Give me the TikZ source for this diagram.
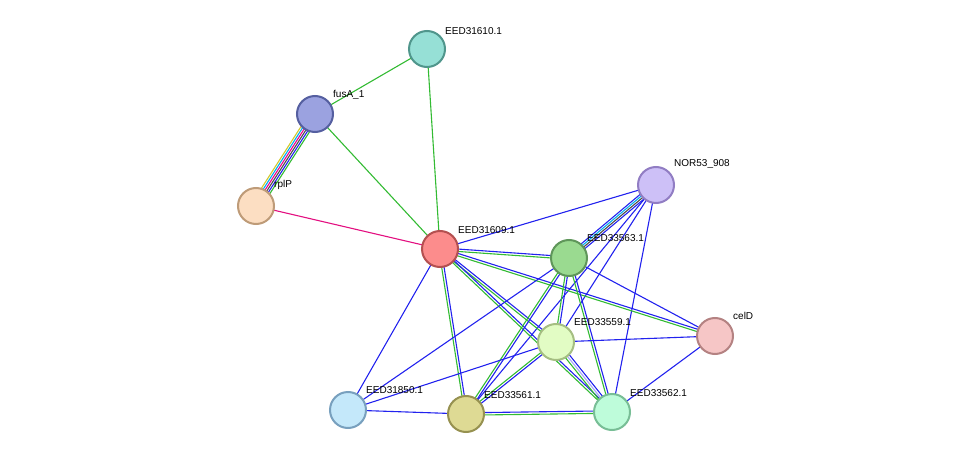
\documentclass[tikz,border=0pt]{standalone}
\usepackage{fontspec}
\setmainfont{Liberation Sans}
\usetikzlibrary{calc}
\begin{document}
\begin{tikzpicture}[x=1pt,y=-1pt,
  nd/.style={circle,minimum size=36pt,inner sep=0pt,line width=2pt},
  lb/.style={anchor=south west,inner sep=0pt,font=\fontsize{10}{11}\selectfont},
  e/.style={line width=1.1pt}]
\useasboundingbox (0,0) rectangle (975,460);
\def\P#1#2#3#4{\draw[e,#3] ($(#1)!#4!90:(#2)$) -- ($(#2)!#4!-90:(#1)$);}
\definecolor{gr}{HTML}{33BB33}
\definecolor{bl}{HTML}{2222EE}
\def\BG#1#2{\P{#1}{#2}{bl}{1.2pt}\P{#1}{#2}{gr}{-1.2pt}}
\coordinate (a) at (427,49);
\coordinate (f) at (315,114);
\coordinate (r) at (256,206);
\coordinate (n) at (656,185);
\coordinate (c) at (440,249);
\coordinate (g) at (569,258);
\coordinate (d) at (715,336);
\coordinate (s) at (556,342);
\coordinate (b) at (348,410);
\coordinate (k) at (466,414);
\coordinate (t) at (612,412);
% edges
\draw[e,gr] (a)--(f); \draw[e,gr] (a)--(c); \draw[e,gr] (f)--(c);
\P{f}{r}{gr}{5pt}\P{f}{r}{bl}{3pt}\P{f}{r}{black!70}{1pt}
\P{f}{r}{magenta}{-1pt}\P{f}{r}{cyan}{-3pt}\P{f}{r}{yellow!80!black}{-5pt}
\draw[e,magenta!80!purple] (r)--(c);
\draw[e,bl] (n)--(c);
\P{n}{g}{bl}{3pt}\P{n}{g}{black!70}{1pt}\P{n}{g}{cyan}{-1pt}\P{n}{g}{bl}{-3pt}
\draw[e,bl] (n)--(s); \draw[e,bl] (n)--(t); \draw[e,bl] (n)--(k);
\BG{c}{g}\BG{c}{d}\BG{c}{s}\BG{c}{t}\BG{c}{k}
\draw[e,bl] (c)--(b);
\draw[e,bl] (g)--(d); \BG{g}{s}\BG{g}{t}\BG{g}{k}\draw[e,bl] (g)--(b);
\draw[e,bl] (s)--(d); \draw[e,bl] (s)--(b); \BG{s}{k}
\P{s}{t}{bl}{2.4pt}\P{s}{t}{bl!40}{0pt}\P{s}{t}{gr}{-2.4pt}
\draw[e,bl] (d)--(t); \draw[e,bl] (b)--(k); \BG{k}{t}
% nodes
\node[nd,fill={rgb,255:red,150;green,224;blue,214},draw={rgb,255:red,80;green,150;blue,140}] (A) at (a) {};
\node[nd,fill={rgb,255:red,155;green,162;blue,224},draw={rgb,255:red,85;green,95;blue,160}] (F) at (f) {};
\node[nd,fill={rgb,255:red,252;green,222;blue,194},draw={rgb,255:red,190;green,155;blue,120}] (R) at (r) {};
\node[nd,fill={rgb,255:red,205;green,192;blue,247},draw={rgb,255:red,145;green,125;blue,195}] (N) at (n) {};
\node[nd,fill={rgb,255:red,252;green,140;blue,140},draw={rgb,255:red,180;green,80;blue,80}] (C) at (c) {};
\node[nd,fill={rgb,255:red,154;green,218;blue,144},draw={rgb,255:red,95;green,150;blue,90}] (G) at (g) {};
\node[nd,fill={rgb,255:red,246;green,198;blue,198},draw={rgb,255:red,180;green,130;blue,130}] (D) at (d) {};
\node[nd,fill={rgb,255:red,226;green,252;blue,196},draw={rgb,255:red,165;green,190;blue,130}] (S) at (s) {};
\node[nd,fill={rgb,255:red,196;green,232;blue,250},draw={rgb,255:red,120;green,160;blue,190}] (B) at (b) {};
\node[nd,fill={rgb,255:red,222;green,218;blue,148},draw={rgb,255:red,150;green,145;blue,80}] (K) at (k) {};
\node[nd,fill={rgb,255:red,190;green,252;blue,218},draw={rgb,255:red,120;green,190;blue,150}] (T) at (t) {};
\node[lb] at ($(a)+(18,-14)$) {EED31610.1};
\node[lb] at ($(f)+(18,-14)$) {fusA\_1};
\node[lb] at ($(r)+(18,-16)$) {rplP};
\node[lb] at ($(n)+(18,-16)$) {NOR53\_908};
\node[lb] at ($(c)+(18,-15)$) {EED31609.1};
\node[lb] at ($(g)+(18,-16)$) {EED33563.1};
\node[lb] at ($(d)+(18,-16)$) {celD};
\node[lb] at ($(s)+(18,-16)$) {EED33559.1};
\node[lb] at ($(b)+(18,-16)$) {EED31850.1};
\node[lb] at ($(k)+(18,-15)$) {EED33561.1};
\node[lb] at ($(t)+(18,-15)$) {EED33562.1};
\end{tikzpicture}
\end{document}
